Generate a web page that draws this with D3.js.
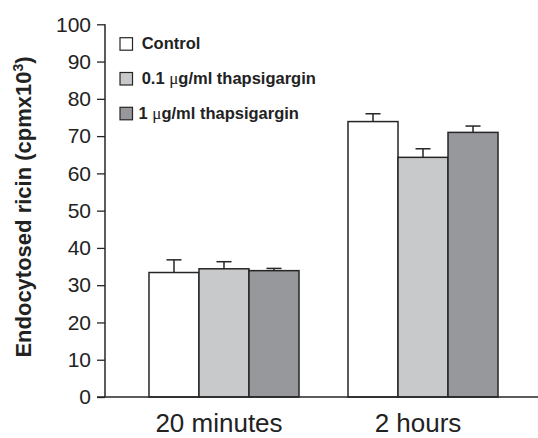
<!DOCTYPE html>
<html>
<head>
<meta charset="utf-8">
<script src="https://cdn.jsdelivr.net/npm/d3@7"></script>
<style>
  html, body { margin: 0; padding: 0; background: #fff; }
  svg { display: block; }
  text { font-family: "Liberation Sans", Arial, sans-serif; fill: #222; }
</style>
</head>
<body>
<svg id="chart" width="538" height="438"></svg>
<script>
// ---- data ----
const groups = ["20 minutes", "2 hours"];
const series = ["Control", "0.1 µg/ml thapsigargin", "1 µg/ml thapsigargin"];
const seriesPrefix = ["Control", "0.1 ", "1 "];
const seriesSuffix = ["", "g/ml thapsigargin", "g/ml thapsigargin"];
const controlValues = [33.4, 73.9];
const lowDoseValues = [34.4, 64.3];
const highDoseValues = [33.9, 71.0];
const controlErrors = [3.4, 2.1];
const lowDoseErrors = [1.9, 2.3];
const highDoseErrors = [0.6, 1.7];
const yTicks = [0, 10, 20, 30, 40, 50, 60, 70, 80, 90, 100];
const seriesColors = ["#ffffff", "#c8c9cb", "#97989c"];

const values = [controlValues, lowDoseValues, highDoseValues];
const errors = [controlErrors, lowDoseErrors, highDoseErrors];

const svg = d3.select("#chart");
const axisX0 = 105, axisY0 = 397;

const y = d3.scaleLinear().domain([0, 100]).range([397, 24.3]);
const x0 = d3.scaleBand().domain(groups).range([105, 542])
  .paddingInner(0.2462).paddingOuter(0.221);
const x1 = d3.scaleBand().domain(series).range([0, x0.bandwidth()]).padding(0);

const ink = "#262626";

// bars
const rows = [];
groups.forEach((g, gi) => series.forEach((s, si) => rows.push({
  g, s, si, v: values[si][gi], e: errors[si][gi]
})));

const gBars = svg.append("g");
gBars.selectAll("rect").data(rows).join("rect")
  .attr("x", d => x0(d.g) + x1(d.s))
  .attr("y", d => y(d.v))
  .attr("width", x1.bandwidth())
  .attr("height", d => y(0) - y(d.v))
  .attr("fill", d => seriesColors[d.si])
  .attr("stroke", ink)
  .attr("stroke-width", 1.5);

// error bars
const capW = 15;
const gErr = svg.append("g").attr("stroke", ink).attr("stroke-width", 1.5);
rows.forEach(d => {
  const cx = x0(d.g) + x1(d.s) + x1.bandwidth() / 2;
  gErr.append("line").attr("x1", cx).attr("x2", cx)
    .attr("y1", y(d.v)).attr("y2", y(d.v + d.e));
  gErr.append("line").attr("x1", cx - capW / 2).attr("x2", cx + capW / 2)
    .attr("y1", y(d.v + d.e)).attr("y2", y(d.v + d.e));
});

// y axis
const yAxis = d3.axisLeft(y).tickValues(yTicks).tickSize(8).tickPadding(6).tickFormat(d3.format("d"));
const gy = svg.append("g").attr("transform", `translate(${axisX0},0)`).call(yAxis);
gy.select(".domain").remove();
gy.selectAll(".tick line").attr("stroke", ink).attr("stroke-width", 1.3);
gy.selectAll(".tick text").style("font-size", "21px").style("font-family", "'Liberation Sans', Arial, sans-serif").attr("fill", "#222");
svg.append("line").attr("x1", axisX0).attr("x2", axisX0)
  .attr("y1", y(100)).attr("y2", y(0)).attr("stroke", ink).attr("stroke-width", 1.5);

// x axis line
svg.append("line").attr("x1", 97).attr("x2", 538)
  .attr("y1", axisY0).attr("y2", axisY0).attr("stroke", ink).attr("stroke-width", 1.5);

// x labels
svg.append("g").selectAll("text").data(groups).join("text")
  .attr("x", d => x0(d) + x0.bandwidth() / 2 - 5)
  .attr("y", 432)
  .attr("text-anchor", "middle")
  .style("font-size", "26px")
  .text(d => d);

// y title
const title = svg.append("text")
  .attr("transform", "translate(31,207) rotate(-90)")
  .attr("text-anchor", "middle")
  .style("font-size", "22px")
  .style("font-weight", "bold");
title.append("tspan").text("Endocytosed ricin (cpmx10");
title.append("tspan").text("3").style("font-size", "14px").attr("dy", "-8");
title.append("tspan").text(")").attr("dy", "8");

// legend
const legend = svg.append("g");
series.forEach((s, i) => {
  const ly = 37.7 + i * 34.8;
  legend.append("rect").attr("x", 120).attr("y", ly).attr("width", 12.5).attr("height", 12.5)
    .attr("fill", seriesColors[i]).attr("stroke", ink).attr("stroke-width", 1.2);
  const t = legend.append("text").attr("x", i === 2 ? 138.5 : 141.7).attr("y", ly + 11.5)
    .style("font-size", "16.5px").style("font-weight", "bold");
  t.append("tspan").text(seriesPrefix[i]);
  if (seriesSuffix[i]) {
    t.append("tspan").text("\u03bc").style("font-weight", "normal")
      .style("font-family", "'Liberation Serif', 'Times New Roman', serif").style("font-size", "17px");
    t.append("tspan").text(seriesSuffix[i]);
  }
});
</script>
</body>
</html>
